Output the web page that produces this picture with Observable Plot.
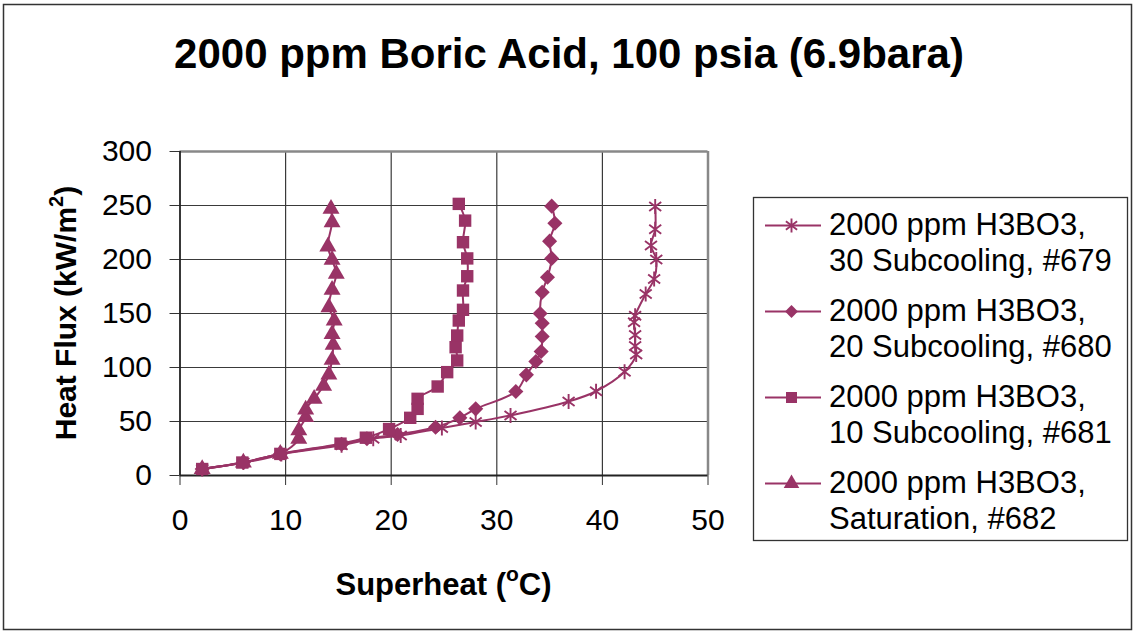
<!DOCTYPE html>
<html><head><meta charset="utf-8">
<script src="https://cdn.jsdelivr.net/npm/d3@7"></script>
<script src="https://cdn.jsdelivr.net/npm/@observablehq/plot@0.6"></script>
<style>
body{margin:0;background:#fff;}
#wrap{position:relative;width:1136px;height:634px;font-family:"Liberation Sans",Arial,sans-serif;}
#wrap > svg{position:absolute;left:0;top:0;}
</style></head><body><div id="wrap"></div>
<script>
// ---- data ----
const chartTitle = "2000 ppm Boric Acid, 100 psia (6.9bara)";
const seriesKeys = ["679", "680", "681", "682"];
const legendLine1 = ["2000 ppm H3BO3,", "2000 ppm H3BO3,", "2000 ppm H3BO3,", "2000 ppm H3BO3,"];
const legendLine2 = ["30 Subcooling, #679", "20 Subcooling, #680", "10 Subcooling, #681", "Saturation, #682"];
const xTicks = [0, 10, 20, 30, 40, 50];
const yTicks = [0, 50, 100, 150, 200, 250, 300];

const superheat679 = [2.1, 6.0, 9.6, 15.3, 18.3, 20.9, 24.8, 28.0, 31.3, 36.8, 39.4, 42.1, 43.2, 43.1, 43.1, 43.0, 43.1, 44.1, 44.9, 45.1, 44.6, 45.0, 45.0];
const flux679      = [6, 12, 20, 28, 34, 37, 44, 49.5, 55.6, 68.5, 78, 96, 112, 120, 130, 142, 148, 168, 182, 200, 213, 228, 249];

const superheat680 = [2.1, 6.0, 9.5, 15.3, 17.7, 20.6, 24.2, 26.5, 28.0, 31.8, 32.8, 33.7, 34.2, 34.3, 34.3, 34.1, 34.3, 34.8, 35.2, 35.0, 35.5, 35.2];
const flux680      = [6, 12, 20, 29, 34, 38, 44.7, 53.4, 61.7, 77.8, 93.2, 105.6, 114.8, 128.7, 141, 150, 169.7, 183.6, 201, 217, 233.6, 249.4];

const superheat681 = [2.1, 5.9, 9.5, 15.2, 17.6, 19.8, 21.8, 22.5, 22.5, 24.4, 25.3, 26.25, 26.1, 26.25, 26.4, 26.8, 26.8, 27.2, 27.2, 26.8, 27.0, 26.4];
const flux681      = [6, 12, 20, 29.5, 35, 43, 53.4, 61.7, 71, 82.4, 95.7, 106.5, 118.8, 129.6, 143.5, 153.4, 171.3, 184.5, 201, 216, 236, 251.5];

const superheat682 = [2.1, 6.0, 9.5, 11.25, 11.25, 11.9, 11.9, 12.7, 13.6, 14.1, 14.4, 14.5, 14.4, 14.6, 14.1, 14.4, 14.8, 14.4, 14.0, 14.4, 14.3];
const flux682      = [6, 12, 20, 34, 41.7, 54, 61, 71, 83, 93.5, 107, 121, 131, 143.5, 155.8, 172, 186.7, 199.7, 212, 234.5, 247];

// ---- build table ----
const color = "#993366";
const xs = [superheat679, superheat680, superheat681, superheat682];
const ys = [flux679, flux680, flux681, flux682];
const rows = [];
seriesKeys.forEach((k, s) => xs[s].forEach((v, i) => rows.push({series: k, x: v, y: ys[s][i]})));

const starSymbol = {
  draw(ctx, size) {
    const r = Math.sqrt(size / Math.PI);
    ctx.moveTo(0, -r); ctx.lineTo(0, r);
    ctx.moveTo(-r * 0.8, -r * 0.6); ctx.lineTo(r * 0.8, r * 0.6);
    ctx.moveTo(-r * 0.8, r * 0.6); ctx.lineTo(r * 0.8, -r * 0.6);
  }
};
const symbols = {"679": starSymbol, "680": "diamond2", "681": "square", "682": "triangle"};
const radii = {"679": 7.5, "680": 6.8, "681": 7.0, "682": 6.3};

const marks = [
  Plot.gridX(xTicks.slice(1, -1), {stroke: "#3a3a3a", strokeOpacity: 1, strokeWidth: 1.2}),
  Plot.gridY(yTicks.slice(1, -1), {stroke: "#3a3a3a", strokeOpacity: 1, strokeWidth: 1.2}),
  Plot.ruleY([300], {stroke: "#888", strokeWidth: 2.5}),
  Plot.ruleX([50], {stroke: "#888", strokeWidth: 2.5}),
  Plot.axisX({ticks: xTicks, tickSize: 10, tickPadding: 23, fontSize: 30, label: null, stroke: "#333"}),
  Plot.axisY({ticks: yTicks, tickSize: 10, tickPadding: 18, fontSize: 30, label: null, stroke: "#333"}),
  Plot.ruleX([0], {stroke: "#222", strokeWidth: 1.8}),
  Plot.ruleY([0], {stroke: "#222", strokeWidth: 1.8}),
  Plot.line(rows, {x: "x", y: "y", z: "series", stroke: color, strokeWidth: 2, curve: "catmull-rom"})
];
seriesKeys.forEach(k => {
  const star = k === "679";
  marks.push(Plot.dot(rows.filter(d => d.series === k), {
    x: "x", y: "y", symbol: symbols[k], r: radii[k],
    fill: star ? "none" : color, stroke: star ? color : "none", strokeWidth: star ? 1.9 : 0
  }));
});

const chart = Plot.plot({
  width: 1136, height: 634,
  marginLeft: 179.5, marginRight: 428.5, marginTop: 151, marginBottom: 159,
  x: {domain: [0, 50]}, y: {domain: [0, 300]},
  style: {fontFamily: "'Liberation Sans', Arial, sans-serif", background: "transparent", color: "#000", overflow: "visible"},
  marks
});
const wrap = document.getElementById("wrap");
wrap.appendChild(chart);

// ---- overlay: frame, title, axis titles, legend ----
const ov = d3.select(wrap).append("svg").attr("width", 1136).attr("height", 634)
  .style("font-family", "'Liberation Sans', Arial, sans-serif");
ov.append("rect").attr("x", 3.5).attr("y", 4.5).attr("width", 1128).attr("height", 625)
  .attr("fill", "none").attr("stroke", "#333").attr("stroke-width", 1.5);
ov.append("text").attr("x", 569).attr("y", 68).attr("text-anchor", "middle")
  .attr("font-size", 42).attr("font-weight", "bold").text(chartTitle);

const xt = ov.append("text").attr("x", 443.5).attr("y", 595).attr("text-anchor", "middle")
  .attr("font-size", 31).attr("font-weight", "bold");
xt.append("tspan").text("Superheat (");
xt.append("tspan").attr("font-size", 21).attr("dy", -14).text("o");
xt.append("tspan").attr("dy", 14).text("C)");

const yt = ov.append("text").attr("transform", "translate(76,313) rotate(-90)").attr("text-anchor", "middle")
  .attr("font-size", 30).attr("font-weight", "bold");
yt.append("tspan").text("Heat Flux (kW/m");
yt.append("tspan").attr("font-size", 20).attr("dy", -13).text("2");
yt.append("tspan").attr("dy", 13).text(")");

const lg = ov.append("g");
lg.append("rect").attr("x", 753.5).attr("y", 197.5).attr("width", 374).attr("height", 343)
  .attr("fill", "#fff").attr("stroke", "#333").attr("stroke-width", 1.3);
const legR = {"679": 7, "680": 5.8, "681": 6.2, "682": 5.8};
seriesKeys.forEach((k, i) => {
  const cy = 225.5 + 86 * i;
  lg.append("line").attr("x1", 765).attr("x2", 821).attr("y1", cy).attr("y2", cy)
    .attr("stroke", color).attr("stroke-width", 2);
  const sym = typeof symbols[k] === "string"
    ? d3.symbol({diamond2: d3.symbolDiamond2, square: d3.symbolSquare, triangle: d3.symbolTriangle}[symbols[k]], Math.PI * legR[k] ** 2)
    : d3.symbol(symbols[k], Math.PI * legR[k] ** 2);
  lg.append("path").attr("transform", `translate(791.5,${cy})`).attr("d", sym())
    .attr("fill", k === "679" ? "none" : color).attr("stroke", k === "679" ? color : "none").attr("stroke-width", 1.9);
  lg.append("text").attr("x", 829).attr("y", cy + 9).attr("font-size", 31).text(legendLine1[i]);
  lg.append("text").attr("x", 829).attr("y", cy + 45.5).attr("font-size", 31).text(legendLine2[i]);
});
</script></body></html>
